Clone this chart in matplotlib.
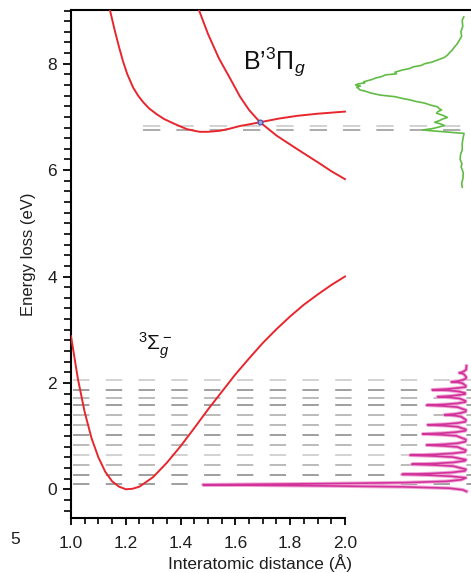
import matplotlib
matplotlib.use('Agg')
import matplotlib.pyplot as plt
from matplotlib.ticker import MultipleLocator, FixedLocator

plt.rcParams['font.family'] = ['Liberation Sans', 'DejaVu Sans']
plt.rcParams['mathtext.fontset'] = 'custom'
plt.rcParams['mathtext.rm'] = 'Liberation Sans'
plt.rcParams['mathtext.it'] = 'Liberation Sans:italic'
plt.rcParams['lines.scale_dashes'] = False

# ground state 3Sigma_g- potential curve (r in A, E in eV)
rX = [1.00, 1.025, 1.05, 1.075, 1.10, 1.125, 1.15, 1.175, 1.20, 1.225, 1.25,
      1.30, 1.35, 1.40, 1.45, 1.50, 1.55, 1.60, 1.65, 1.70, 1.75, 1.80,
      1.85, 1.90, 1.95, 2.00]
eX = [2.88, 2.08, 1.45, 0.96, 0.60, 0.33, 0.15, 0.05, 0.00, 0.01, 0.05,
      0.23, 0.50, 0.81, 1.15, 1.50, 1.83, 2.16, 2.46, 2.75, 3.01, 3.25,
      3.47, 3.66, 3.84, 4.00]

# B'3Pi_g, shallow well
rB = [1.13, 1.142, 1.16, 1.175, 1.189, 1.205, 1.227, 1.245, 1.263, 1.285,
      1.313, 1.34, 1.373, 1.40, 1.423, 1.45, 1.47, 1.50, 1.544, 1.58,
      1.617, 1.65, 1.69, 1.76, 1.825, 1.90, 2.00]
eB = [9.25, 9.01, 8.62, 8.32, 8.06, 7.81, 7.55, 7.40, 7.28, 7.16,
      7.05, 6.96, 6.88, 6.82, 6.77, 6.74, 6.72, 6.72, 6.74, 6.78,
      6.83, 6.86, 6.90, 6.97, 7.02, 7.06, 7.10]

# repulsive state crossing B'3Pi_g
rR = [1.455, 1.467, 1.50, 1.54, 1.58, 1.617, 1.65, 1.69, 1.75, 1.824,
      1.909, 1.95, 2.00]
eR = [9.18, 9.01, 8.56, 8.10, 7.73, 7.38, 7.13, 6.90, 6.65, 6.40,
      6.12, 5.98, 5.83]

r_cross = 1.69
e_cross = 6.90

# vibrational levels
lev_low = [0.09, 0.27, 0.46, 0.65, 0.83, 1.02, 1.21, 1.39, 1.58, 1.72, 1.86, 2.05]
lev_low_col = ['#858585', '#858585', '#a8a8a8', '#c6c6c6', '#a8a8a8', '#858585',
               '#a8a8a8', '#a8a8a8', '#858585', '#a8a8a8', '#858585', '#c6c6c6']
lev_up = [6.82, 6.75]
lev_up_col = ['#c6c6c6', '#959595']

# vibrational loss spectrum (energy eV, intensity a.u.)
vib_E = [-0.04, -0.01, 0.02, 0.045, 0.065, 0.078, 0.085, 0.092, 0.105, 0.125, 0.15, 0.18,
         0.215, 0.245, 0.265, 0.28, 0.295, 0.315, 0.345,
         0.375, 0.435, 0.455, 0.47, 0.485, 0.505, 0.535,
         0.555, 0.605, 0.625, 0.64, 0.655, 0.675, 0.70,
         0.735, 0.795, 0.815, 0.83, 0.845, 0.865, 0.895,
         0.935, 1.005, 1.025, 1.04, 1.055, 1.075, 1.10,
         1.125, 1.175, 1.195, 1.21, 1.225, 1.245, 1.27,
         1.305, 1.365, 1.385, 1.40, 1.415, 1.435, 1.46,
         1.49, 1.545, 1.565, 1.58, 1.595, 1.615, 1.64,
         1.66, 1.705, 1.725, 1.74, 1.755, 1.775, 1.79,
         1.81, 1.84, 1.86, 1.87, 1.885, 1.905, 1.92,
         1.945, 1.99, 2.01, 2.02, 2.035, 2.055, 2.08,
         2.11, 2.16, 2.18, 2.19, 2.20, 2.22, 2.25, 2.32]
vib_I = [0.6, 2.0, 7.0, 24.0, 55.0, 85.0, 100.0, 85.0, 55.0, 24.0, 8.0, 2.5,
         0.8, 6.5, 14.5, 24.9, 14.5, 6.5, 1.2,
         0.8, 5.6, 12.2, 21.2, 12.2, 5.6, 1.2,
         0.8, 5.8, 12.6, 21.9, 12.6, 5.8, 1.2,
         0.8, 4.0, 8.9, 15.6, 8.9, 4.0, 1.0,
         0.8, 4.4, 9.8, 17.1, 9.8, 4.4, 1.0,
         0.8, 3.9, 8.6, 15.2, 8.6, 3.9, 1.0,
         0.8, 2.6, 5.0, 8.9, 5.0, 2.6, 0.9,
         0.8, 4.0, 8.9, 15.6, 8.9, 4.0, 1.0,
         0.9, 3.1, 6.4, 11.5, 6.4, 3.1, 1.1,
         1.1, 3.7, 7.6, 13.5, 7.6, 3.7, 1.0,
         0.8, 2.0, 3.6, 6.3, 3.6, 2.0, 0.8,
         0.7, 1.5, 2.3, 3.3, 2.3, 1.5, 0.7, 0.6]

# electronic excitation spectrum (energy eV, intensity a.u.)
exc_E = [8.88, 8.82, 8.70, 8.60, 8.52, 8.44, 8.38, 8.31, 8.26, 8.20, 8.16, 8.12,
         8.09, 8.05, 8.03, 8.00, 7.97, 7.94, 7.91, 7.88, 7.84, 7.81, 7.79, 7.76,
         7.73, 7.70, 7.66, 7.64, 7.62, 7.60, 7.58, 7.56, 7.53, 7.51, 7.48, 7.45,
         7.41, 7.38, 7.35, 7.32, 7.29, 7.26, 7.22, 7.19, 7.16, 7.13, 7.10, 7.07,
         7.03, 6.99, 6.96, 6.93, 6.90, 6.87, 6.84, 6.81, 6.78, 6.755, 6.74, 6.72,
         6.70, 6.69, 6.60, 6.50, 6.38, 6.30, 6.20, 6.12, 6.06, 5.95, 5.85, 5.75, 5.68]
exc_I = [1.6, 2.2, 2.0, 2.7, 2.4, 3.3, 4.0, 5.2, 5.9, 7.1, 7.8, 8.9,
         10.4, 12.6, 13.6, 16.4, 17.5, 20.8, 22.0, 24.9, 27.6, 27.0, 31.2, 32.5,
         34.9, 36.5, 39.4, 39.0, 41.6, 42.4, 40.6, 42.0, 41.2, 40.9, 38.5, 36.8,
         33.1, 27.5, 25.0, 21.9, 19.6, 16.4, 14.0, 11.5, 11.0, 10.0, 11.4, 11.9,
         9.5, 7.8, 9.6, 10.8, 12.6, 10.5, 8.9, 11.0, 13.4, 17.1, 14.0, 8.9,
         4.0, 1.5, 1.9, 2.2, 2.2, 2.8, 3.0, 2.3, 2.6, 1.8, 1.9, 2.4, 2.2]

xticks = [1.0, 1.2, 1.4, 1.6, 1.8, 2.0]
xminor = [1.0 + 0.05 * i for i in range(21)]

fig = plt.figure(figsize=(4.71, 5.73), dpi=100)
ax = fig.add_axes([71 / 471, 1 - 518 / 573, 400 / 471, 508 / 573])
ax.set_xlim(1.0, 2.46)
ax.set_ylim(-0.54, 9.01)

# level ladders
for e, c in zip(lev_low, lev_low_col):
    ax.plot([1.007, 2.46], [e, e], color=c, lw=1.1, dashes=(11.8, 11.8), zorder=1)
for e, c in zip(lev_up, lev_up_col):
    ax.plot([1.263, 2.46], [e, e], color=c, lw=1.1, dashes=(12.5, 11.5), zorder=1)

# potential curves
red = '#e8262e'
ax.plot(rX, eX, color=red, lw=1.4, zorder=3)
ax.plot(rB, eB, color=red, lw=1.4, zorder=3)
ax.plot(rR, eR, color=red, lw=1.4, zorder=3)
ax.plot([r_cross], [e_cross], 'o', ms=3.5, mfc='#9aa6e0', mec='#3a4fb0', mew=0.8, zorder=4)

ax.text(1.628, 7.88, r"B’$^3\Pi_g$", fontsize=18, va='baseline', color='#111111')
ax.text(1.245, 2.62, r"$^3\Sigma_g^-$", fontsize=15, va='baseline', color='#111111')

# axes styling
ax.spines['right'].set_visible(False)
for s in ['left', 'top', 'bottom']:
    ax.spines[s].set_linewidth(1.5)
ax.spines['bottom'].set_bounds(1.0, 2.0)
ax.set_xticks(xticks)
ax.set_xticklabels(['%.1f' % v for v in xticks])
ax.xaxis.set_minor_locator(FixedLocator(xminor))
ax.set_yticks([0, 2, 4, 6, 8])
ax.yaxis.set_minor_locator(MultipleLocator(0.2))
ax.tick_params(axis='y', which='major', direction='out', length=6, width=1.3,
               labelsize=12.5, pad=4, labelcolor='#1e1e1e')
ax.tick_params(axis='y', which='minor', direction='out', length=5, width=1.2)
ax.tick_params(axis='x', which='major', direction='out', length=5, width=1.3,
               labelsize=12.5, pad=8, labelcolor='#1e1e1e')
ax.tick_params(axis='x', which='minor', direction='out', length=4, width=1.2)

# spectra on a twin x axis, intensity growing to the left
ax2 = ax.twiny()
ax2.set_xlim(149.8, -1.115)
ax2.set_ylim(ax.get_ylim())
for s in ax2.spines.values():
    s.set_visible(False)
ax2.set_xticks([])
ax2.plot(vib_I, vib_E, color='#efa8d6', lw=2.6, solid_joinstyle='round')
ax2.plot(vib_I, vib_E, color='#d3329a', lw=1.2, solid_joinstyle='round')
ax2.plot(exc_I, exc_E, color='#62bb44', lw=1.2)

fig.text(28 / 471, 1 - 254 / 573, 'Energy loss (eV)', rotation=90,
         ha='center', va='center', fontsize=12, color='#1e1e1e')
fig.text(260 / 471, 1 - 563 / 573, 'Interatomic distance (Å)',
         ha='center', va='center', fontsize=12.5, color='#1e1e1e')
fig.text(20 / 471, 1 - 540 / 573, '5', ha='right', va='center',
         fontsize=12.5, color='#1e1e1e')

fig.savefig('out.png', dpi=100)
